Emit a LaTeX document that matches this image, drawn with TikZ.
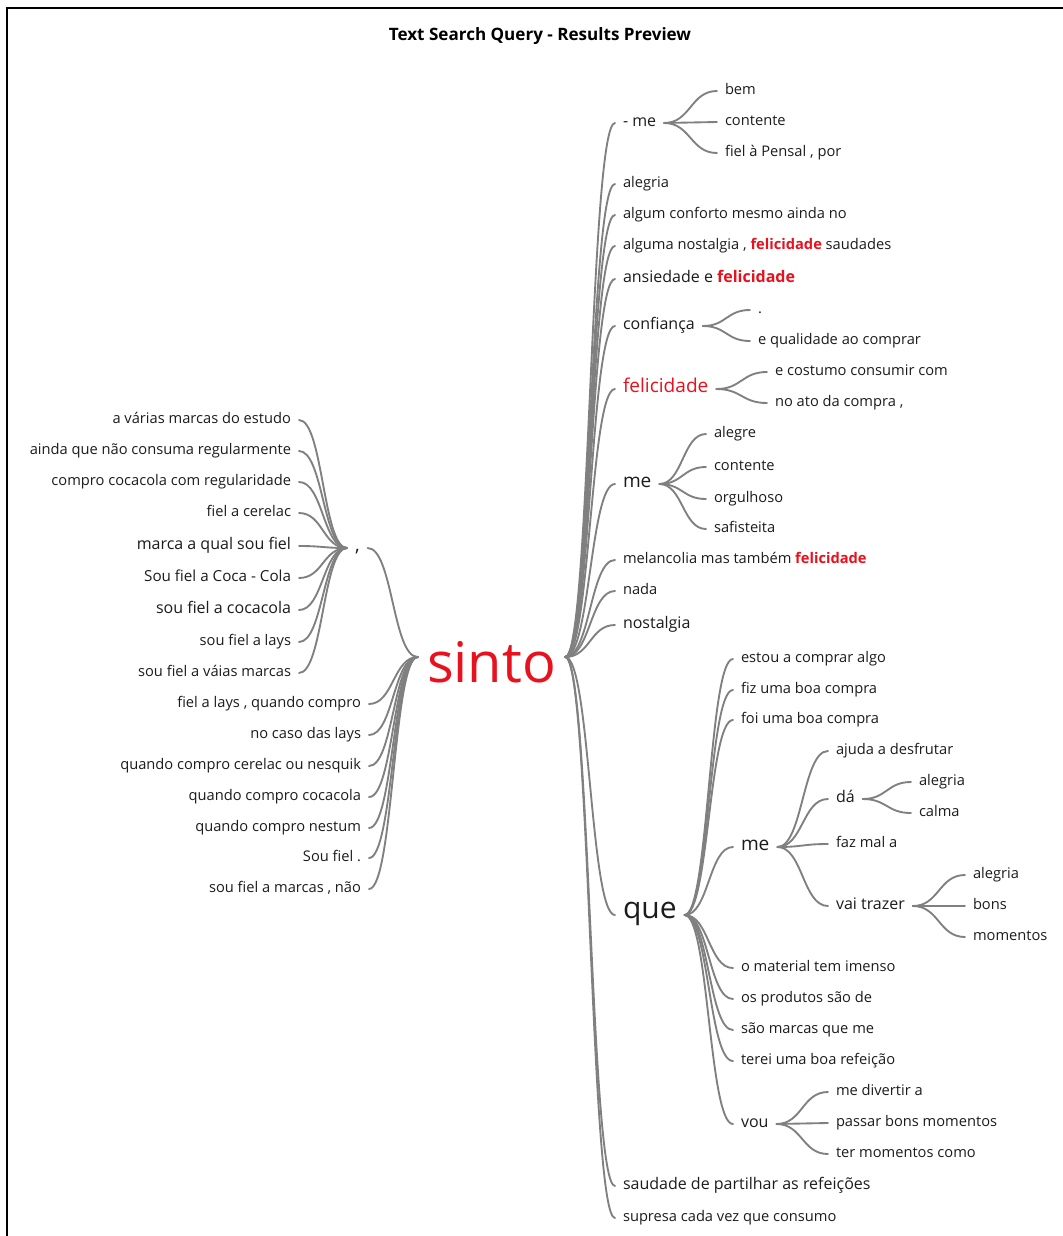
\documentclass[tikz,border=0pt]{standalone}
\usepackage{fontspec}
\setmainfont{Open Sans}
\usetikzlibrary{calc}
\definecolor{inkred}{RGB}{232,18,30}
\definecolor{inktext}{RGB}{28,28,28}
\definecolor{twiggray}{RGB}{128,128,128}
% highlighted search term inside a phrase
\newcommand\hlword[1]{{\bfseries\color{inkred}#1}}
% smooth horizontal S-shaped connector between two anchors
\newcommand\twig[2]{\draw[link] let \p1=(#1), \p2=(#2) in (\p1) .. controls ({(\x1+\x2)/2},\y1) and ({(\x1+\x2)/2},\y2) .. (\p2);}
\tikzset{
  link/.style={draw=twiggray, line width=1.4pt, line cap=round},
  word/.style={inner sep=0pt, outer xsep=6pt, text=inktext, text height=7pt, text depth=2pt},
  sm/.style={word, yshift=-2.25pt, font=\fontsize{11}{13}\selectfont},
  md/.style={word, yshift=-2.25pt, font=\fontsize{12}{14}\selectfont},
  lg/.style={word, yshift=-3pt, font=\fontsize{14.3}{16}\selectfont},
  xl/.style={word, yshift=-5.25pt, font=\fontsize{22.5}{26}\selectfont},
  rt/.style={anchor=west},
  lt/.style={anchor=east},
}
\begin{document}
\begin{tikzpicture}[x=0.75pt,y=-0.75pt]
\useasboundingbox (0,0) rectangle (1063,1236);
\fill[white] (0,0) rectangle (1063,1236);
\draw[line width=1.5pt] (7,1236) -- (7,8) -- (1063,8);

\node[font=\bfseries\fontsize{12.8}{15}\selectfont, text=black] (title) at (540,36.5) {Text Search Query - Results Preview};

% root
\node[inner sep=0pt, outer xsep=7pt, text=inkred, text height=38pt, text depth=0.5pt,
      font=\fontsize{42}{46}\selectfont] (sinto) at (491.5,657) {sinto};

% ---- right side ----
\node[md,rt] (r1) at (615,120) {- me};
\node[sm,rt] (r1a) at (717,88) {bem};
\node[sm,rt] (r1b) at (717,119) {contente};
\node[sm,rt] (r1c) at (717,150) {fiel à Pensal , por};
\node[sm,rt] (r2) at (615,181) {alegria};
\node[sm,rt] (r3) at (615,212) {algum conforto mesmo ainda no};
\node[sm,rt] (r4) at (615,243) {alguma nostalgia , \hlword{felicidade} saudades};
\node[md,rt] (r5) at (615,276) {ansiedade e \hlword{felicidade}};
\node[md,rt] (r6) at (615,323) {confiança};
\node[sm,rt] (r6a) at (750,307) {.};
\node[sm,rt] (r6b) at (750,338) {e qualidade ao comprar};
\node[lg,rt,text=inkred] (r7) at (615,385) {felicidade};
\node[sm,rt] (r7a) at (767,369) {e costumo consumir com};
\node[sm,rt] (r7b) at (767,400) {no ato da compra ,};
\node[lg,rt] (r8) at (615,480) {me};
\node[sm,rt] (r8a) at (706,431) {alegre};
\node[sm,rt] (r8b) at (706,464) {contente};
\node[sm,rt] (r8c) at (706,496) {orgulhoso};
\node[sm,rt] (r8d) at (706,526) {safisteita};
\node[sm,rt] (r9) at (615,557) {melancolia mas também \hlword{felicidade}};
\node[sm,rt] (r10) at (615,588) {nada};
\node[md,rt] (r11) at (615,622) {nostalgia};
\node[xl,rt] (r12) at (615,908) {que};
\node[sm,rt] (q1) at (733,656) {estou a comprar algo};
\node[sm,rt] (q2) at (733,687) {fiz uma boa compra};
\node[sm,rt] (q3) at (733,717) {foi uma boa compra};
\node[lg,rt] (q4) at (733,843) {me};
\node[sm,rt] (q4a) at (828,748) {ajuda a desfrutar};
\node[md,rt] (q4b) at (828,796) {dá};
\node[sm,rt] (q4b1) at (911,779) {alegria};
\node[sm,rt] (q4b2) at (911,810) {calma};
\node[sm,rt] (q4c) at (828,841) {faz mal a};
\node[md,rt] (q4d) at (828,903) {vai trazer};
\node[sm,rt] (q4d1) at (965,872) {alegria};
\node[sm,rt] (q4d2) at (965,903) {bons};
\node[sm,rt] (q4d3) at (965,934) {momentos};
\node[sm,rt] (q5) at (733,965) {o material tem imenso};
\node[sm,rt] (q6) at (733,996) {os produtos são de};
\node[sm,rt] (q7) at (733,1027) {são marcas que me};
\node[sm,rt] (q8) at (733,1058) {terei uma boa refeição};
\node[md,rt] (q9) at (733,1121) {vou};
\node[sm,rt] (q9a) at (828,1089) {me divertir a};
\node[sm,rt] (q9b) at (828,1120) {passar bons momentos};
\node[sm,rt] (q9c) at (828,1151) {ter momentos como};
\node[md,rt] (r13) at (615,1183) {saudade de partilhar as refeições};
\node[sm,rt] (r14) at (615,1215) {supresa cada vez que consumo};

% ---- left side ----
\node[lg,rt] (comma) at (347,544) {,};
\node[sm,lt] (l1) at (299,417) {a várias marcas do estudo};
\node[sm,lt] (l2) at (299,448) {ainda que não consuma regularmente};
\node[sm,lt] (l3) at (299,479) {compro cocacola com regularidade};
\node[sm,lt] (l4) at (299,510) {fiel a cerelac};
\node[md,lt] (l5) at (299,543) {marca a qual sou fiel};
\node[sm,lt,font=\fontsize{11.4}{13}\selectfont] (l6) at (299,575) {Sou fiel a Coca - Cola};
\node[md,lt] (l7) at (299,607) {sou fiel a cocacola};
\node[sm,lt] (l8) at (299,639) {sou fiel a lays};
\node[sm,lt] (l9) at (299,670) {sou fiel a váias marcas};
\node[sm,lt] (d1) at (369,701) {fiel a lays , quando compro};
\node[sm,lt] (d2) at (369,732) {no caso das lays};
\node[sm,lt] (d3) at (369,763) {quando compro cerelac ou nesquik};
\node[sm,lt] (d4) at (369,794) {quando compro cocacola};
\node[sm,lt] (d5) at (369,825) {quando compro nestum};
\node[sm,lt] (d6) at (369,855) {Sou fiel .};
\node[sm,lt] (d7) at (369,886) {sou fiel a marcas , não};

% ---- connectors ----
\foreach \c in {r1,r2,r3,r4,r5,r6,r7,r8,r9,r10,r11,r12,r13,r14}
  {\twig{sinto.east}{\c.west}}
\foreach \c in {r1a,r1b,r1c} {\twig{r1.east}{\c.west}}
\foreach \c in {r6a,r6b} {\twig{r6.east}{\c.west}}
\foreach \c in {r7a,r7b} {\twig{r7.east}{\c.west}}
\foreach \c in {r8a,r8b,r8c,r8d} {\twig{r8.east}{\c.west}}
\foreach \c in {q1,q2,q3,q4,q5,q6,q7,q8,q9} {\twig{r12.east}{\c.west}}
\foreach \c in {q4a,q4b,q4c,q4d} {\twig{q4.east}{\c.west}}
\foreach \c in {q4b1,q4b2} {\twig{q4b.east}{\c.west}}
\foreach \c in {q4d1,q4d2,q4d3} {\twig{q4d.east}{\c.west}}
\foreach \c in {q9a,q9b,q9c} {\twig{q9.east}{\c.west}}
\twig{sinto.west}{comma.east}
\foreach \c in {l1,l2,l3,l4,l5,l6,l7,l8,l9} {\twig{comma.west}{\c.east}}
\foreach \c in {d1,d2,d3,d4,d5,d6,d7} {\twig{sinto.west}{\c.east}}
\end{tikzpicture}
\end{document}
